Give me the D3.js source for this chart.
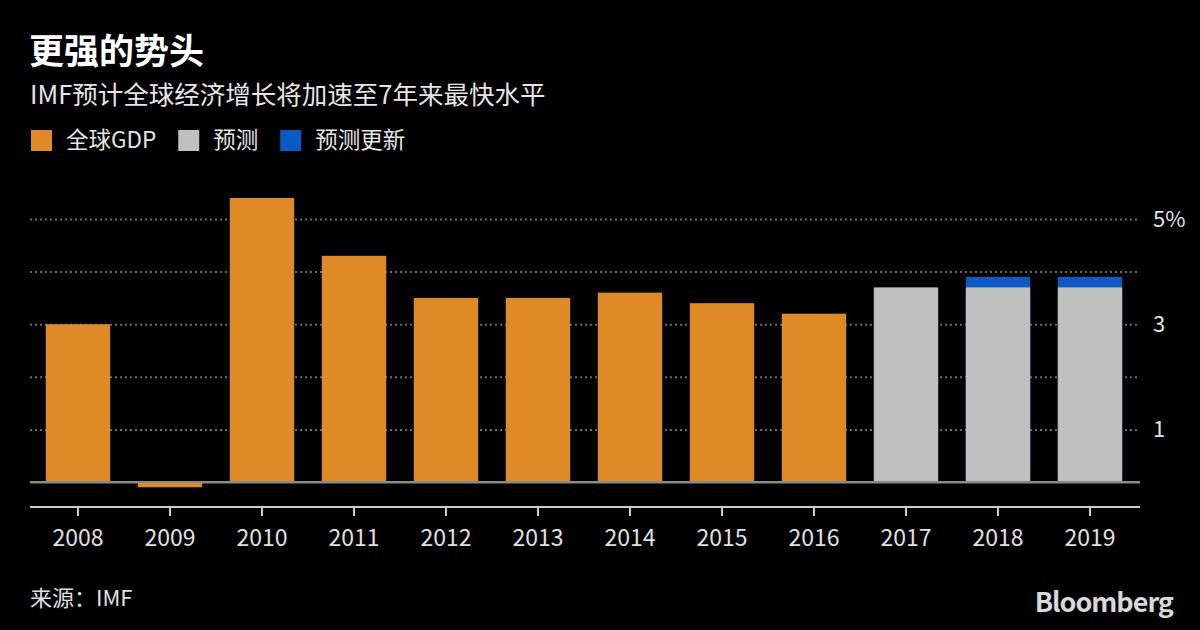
<!DOCTYPE html>
<html><head><meta charset="utf-8">
<script src="https://cdn.jsdelivr.net/npm/d3@7"></script>
<style>
html,body{margin:0;padding:0;background:#000;}
svg{display:block;}
text{font-family:"Noto Sans CJK SC","Noto Sans",sans-serif;}
</style></head>
<body>
<svg id="c" width="1200" height="630"></svg>
<script>
const years = ["2008","2009","2010","2011","2012","2013","2014","2015","2016","2017","2018","2019"];
const gdp = [3.0,-0.1,5.4,4.3,3.5,3.5,3.6,3.4,3.2,null,null,null];
const forecast = [null,null,null,null,null,null,null,null,null,3.7,3.7,3.7];
const forecastUpdate = [null,null,null,null,null,null,null,null,null,null,3.9,3.9];
const yTicks = [0,1,2,3,4,5];
const yLabels = {1:"1",3:"3",5:"5%"};
const legendItems = [["全球GDP","#df8a26"],["预测","#c0c0c0"],["预测更新","#0a59c4"]];

const svg = d3.select("#c");
svg.append("rect").attr("width",1200).attr("height",630).attr("fill","#000");

const x = d3.scaleBand().domain(years).range([32,1136]).paddingInner(0.3).paddingOuter(0.15);
const y = d3.scaleLinear().domain([0,5]).range([482,219]);

// title
svg.append("text").attr("x",29).attr("y",64).attr("fill","#fff").attr("font-size",35).attr("font-weight",700).text("更强的势头");
svg.append("text").attr("x",30).attr("y",104).attr("fill","#e6e6e6").attr("font-size",25.5).text("IMF预计全球经济增长将加速至7年来最快水平");

// legend
let lx = 31;
legendItems.forEach(([t,c])=>{
  svg.append("rect").attr("x",lx).attr("y",130).attr("width",21).attr("height",21).attr("fill",c);
  const tx = svg.append("text").attr("x",lx+35).attr("y",148).attr("fill","#e6e6e6").attr("font-size",22.5).text(t);
  lx += 35 + tx.node().getComputedTextLength() + 22;
});

// gridlines
const gy = d3.axisRight(y).tickValues(yTicks).tickSize(1110).tickFormat(d=>yLabels[d]||"");
const gg = svg.append("g").attr("transform","translate(30,0)").call(gy);
gg.select(".domain").remove();
gg.selectAll(".tick line").attr("stroke","#6a6a6a").attr("stroke-width",2).attr("stroke-dasharray",d=>d===0?null:"2,3");
gg.selectAll(".tick").filter(d=>d===0).select("line").attr("stroke","#8a8a8a");
gg.selectAll(".tick text").attr("x",1123).attr("fill","#e0e0e0").attr("font-size",22).attr("font-family","'Open Sans','Noto Sans',sans-serif");

function bars(data,color){
  svg.append("g").selectAll("rect").data(years.map((yr,i)=>({yr,v:data[i]})).filter(d=>d.v!==null))
    .join("rect")
    .attr("x",d=>x(d.yr)).attr("width",x.bandwidth())
    .attr("y",d=>y(Math.max(0,d.v))).attr("height",d=>Math.abs(y(d.v)-y(0)))
    .attr("fill",color);
}
bars(forecastUpdate,"#0a59c4");
bars(forecast,"#c0c0c0");
bars(gdp,"#df8a26");
svg.append("line").attr("x1",30).attr("x2",1140).attr("y1",y(0)).attr("y2",y(0)).attr("stroke","#8a8a8a").attr("stroke-width",2);

// x axis
const xa = d3.axisBottom(x).tickSize(9).tickSizeOuter(0);
const xg = svg.append("g").attr("transform","translate(0,507)").call(xa);
xg.select(".domain").attr("d","M30,0H1140").attr("stroke","#cccccc").attr("stroke-width",2);
xg.selectAll(".tick line").attr("stroke","#cccccc").attr("stroke-width",2);
xg.selectAll(".tick text").attr("y",23).attr("dy","0.71em").attr("fill","#e0e0e0").attr("font-size",23).attr("font-family","'Open Sans','Noto Sans',sans-serif");

// source
svg.append("text").attr("x",30).attr("y",606).attr("fill","#e0e0e0").attr("font-size",22).text("来源：IMF");
svg.append("text").attr("x",1173).attr("y",612).attr("text-anchor","end").attr("fill","#d8d8d8").attr("font-size",27).attr("font-weight",700).attr("letter-spacing",-1).attr("font-family","'Liberation Sans',Arial,sans-serif").text("Bloomberg");
</script>
</body></html>
